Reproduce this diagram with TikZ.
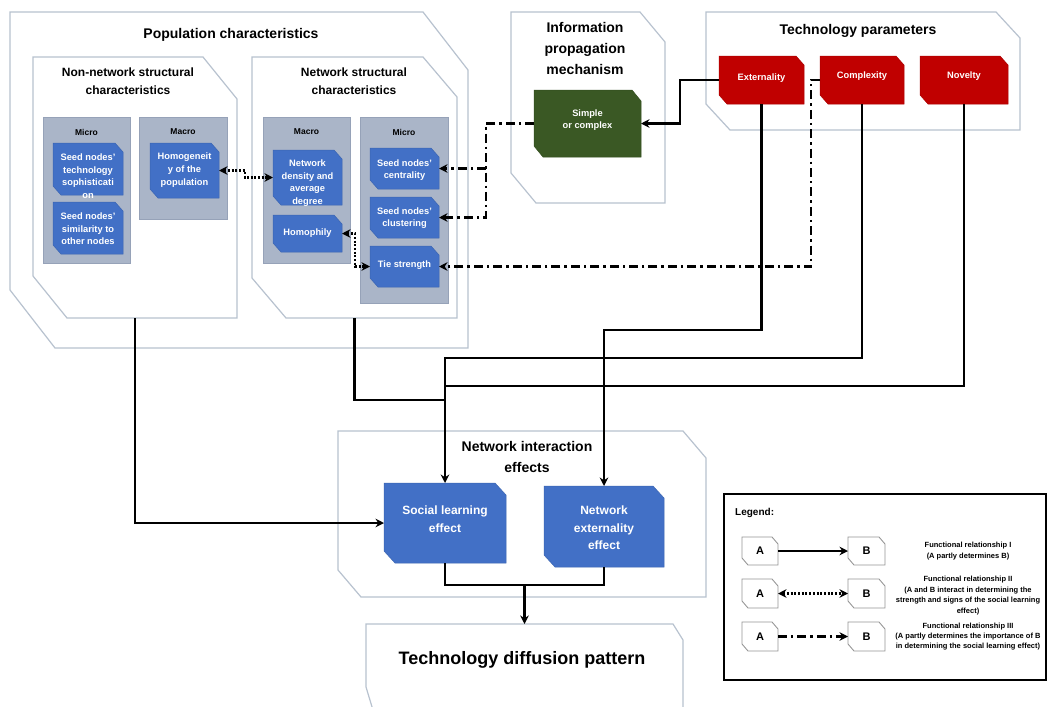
\documentclass[tikz,border=0pt]{standalone}
\usepackage{fontspec}
\setmainfont{Liberation Sans}
\usetikzlibrary{fit,arrows.meta,calc}
\definecolor{cborder}{RGB}{184,194,207}
\definecolor{panelfill}{RGB}{170,181,200}
\definecolor{panelborder}{RGB}{150,162,184}
\definecolor{nodeblue}{RGB}{66,112,198}
\definecolor{nodered}{RGB}{192,0,0}
\definecolor{nodegreen}{RGB}{58,88,36}
\definecolor{legborder}{RGB}{150,150,150}
% #1 style, #2 name, #3 x1, #4 y1, #5 x2, #6 y2, #7 cut x, #8 cut y
\newcommand\snipshape[8]{%
  \path[#1] (#3,#4) -- (#5-#7,#4) -- (#5,#4+#8) -- (#5,#6) -- (#3+#7,#6) -- (#3,#6-#8) -- cycle;
  \node[inner sep=0pt, outer sep=0pt, fit={(#3,#4) (#5,#6)}] (#2) {};
}
\newcommand\panelrect[5]{%
  \path[panel] (#2,#3) rectangle (#4,#5);
  \node[inner sep=0pt, outer sep=0pt, fit={(#2,#3) (#4,#5)}] (#1) {};
}
\begin{document}
\begin{tikzpicture}[x=1pt,y=-1pt,
  cont/.style={fill=white, draw=cborder, line width=1.2pt},
  panel/.style={fill=panelfill, draw=panelborder, line width=0.7pt},
  bluebox/.style={fill=nodeblue, draw=nodeblue!90!black, line width=0.5pt},
  redbox/.style={fill=nodered, draw=nodered!90!black, line width=0.5pt},
  greenbox/.style={fill=nodegreen, draw=nodegreen!90!black, line width=0.5pt},
  legbox/.style={fill=white, draw=legborder, line width=0.9pt},
  wtxt/.style={text=white, font=\bfseries\fontsize{9.3}{12.6}\selectfont, align=center, inner sep=0pt},
  ptxt/.style={font=\bfseries\fontsize{8.5}{10}\selectfont, inner sep=0pt},
  htxt/.style={font=\bfseries\fontsize{14}{21}\selectfont, align=center, inner sep=0pt},
  stxt/.style={font=\bfseries\fontsize{12}{18}\selectfont, align=center, inner sep=0pt},
  ltxt/.style={font=\bfseries\fontsize{7.5}{10.4}\selectfont, align=center, inner sep=0pt},
  conn/.style={line width=2.3pt, black},
  arr/.style={-{Stealth[length=8.5pt,width=8.5pt]}},
  darr/.style={{Stealth[length=8.5pt,width=8.5pt]}-{Stealth[length=8.5pt,width=8.5pt]}},
  dotl/.style={line width=2.6pt, dash pattern=on 2pt off 1.7pt},
  ddl/.style={line width=2.4pt, dash pattern=on 9pt off 4pt on 2.4pt off 4pt}
]
\useasboundingbox (0,0) rectangle (1050,707);
\clip (0,0) rectangle (1050,707);
\fill[white] (0,0) rectangle (1050,707);

% ---------- containers ----------
\snipshape{cont}{pop}{10}{12}{468}{348}{45}{58}
\snipshape{cont}{nonnet}{33}{57}{237}{318}{34}{42}
\snipshape{cont}{net}{252}{57}{457}{318}{34}{40}
\snipshape{cont}{info}{511}{12}{665}{203}{25}{30}
\snipshape{cont}{tech}{706}{12}{1020}{130}{24}{26}
\snipshape{cont}{inter}{338}{431}{706}{597}{23}{27}
\path[cont] (366,624) -- (673,624) -- (683,640) -- (683,740) -- (382,740) -- (366,687) -- cycle;
\node[inner sep=0pt, outer sep=0pt, fit={(366,624) (683,707)}] (diff) {};

% ---------- titles ----------
\node[htxt] (tpop) at (231,35) {Population characteristics};
\node[stxt] (tnonnet) at (128,81) {Non-network structural\\characteristics};
\node[stxt] (tnet) at (354,81) {Network structural\\characteristics};
\node[htxt] (tinfo) at (585,48) {Information\\propagation\\mechanism};
\node[htxt] (ttech) at (858,31) {Technology parameters};
\node[htxt] (tinter) at (527,457) {Network interaction\\effects};
\node[font=\bfseries\fontsize{18}{22}\selectfont, inner sep=0pt] (tdiff) at (522,660) {Technology diffusion pattern};

% ---------- panels ----------
\panelrect{nnmicro}{43}{117}{130}{263}
\panelrect{nnmacro}{139}{117}{227}{219}
\panelrect{nmacro}{263}{117}{350}{263}
\panelrect{nmicro}{360}{117}{448}{303}
\node[ptxt] (lnnmicro) at (86.5,132) {Micro};
\node[ptxt] (lnnmacro) at (183,132) {Macro};
\node[ptxt] (lnmacro) at (306.5,132) {Macro};
\node[ptxt] (lnmicro) at (404,132) {Micro};

% ---------- blue nodes ----------
\snipshape{bluebox}{soph}{53}{143}{123}{195}{8}{9}
\snipshape{bluebox}{simil}{53}{202}{123}{254}{8}{9}
\snipshape{bluebox}{homog}{150}{143}{219}{198}{8}{9}
\snipshape{bluebox}{dens}{273}{150}{342}{205}{8}{9}
\snipshape{bluebox}{homo}{273}{215}{342}{252}{8}{9}
\snipshape{bluebox}{cent}{370}{148}{439}{189}{8}{9}
\snipshape{bluebox}{clust}{370}{197}{439}{238}{8}{9}
\snipshape{bluebox}{tie}{370}{246}{439}{287}{8}{9}
\node[wtxt] (tsoph) at (88,176) {Seed nodes'\\technology\\sophisticati\\on};
\node[wtxt] (tsimil) at (88,229) {Seed nodes'\\similarity to\\other nodes};
\node[wtxt] (thomog) at (184.5,170) {Homogeneit\\y of the\\population};
\node[wtxt] (tdens) at (307.5,183) {Network\\density and\\average\\degree};
\node[wtxt] (thomo) at (307.5,233) {Homophily};
\node[wtxt] (tcent) at (404.5,170) {Seed nodes'\\centrality};
\node[wtxt] (tclust) at (404.5,218) {Seed nodes'\\clustering};
\node[wtxt] (ttie) at (404.5,265) {Tie strength};

% ---------- green / red ----------
\snipshape{greenbox}{green}{534}{90}{641}{157}{9}{11}
\node[wtxt] (tgreen) at (587.5,120) {Simple\\or complex};
\snipshape{redbox}{ext}{719}{56}{804}{104}{8}{9}
\snipshape{redbox}{comp}{820}{56}{904}{104}{8}{9}
\snipshape{redbox}{nov}{920}{56}{1008}{104}{8}{9}
\node[wtxt] (text) at (761.5,78) {Externality};
\node[wtxt] (tcomp) at (862,76) {Complexity};
\node[wtxt] (tnov) at (964,76) {Novelty};

% ---------- interaction effects ----------
\snipshape{bluebox}{social}{384}{483}{506}{563}{11}{12}
\snipshape{bluebox}{netext}{544}{486}{664}{567}{11}{12}
\node[wtxt, font=\bfseries\fontsize{12}{17.5}\selectfont] (tsocial) at (445,519) {Social learning\\effect};
\node[wtxt, font=\bfseries\fontsize{12}{17.5}\selectfont] (tnetext) at (604,528) {Network\\externality\\effect};

% ---------- level coordinates ----------
\coordinate (lvA) at (0,330);
\coordinate (lvB) at (0,358);
\coordinate (lvC) at (0,386);
\coordinate (lvD) at (0,400);
\coordinate (lvE) at (0,585);
\coordinate (xg) at (486,0);
\coordinate (xc) at (811,0);

% ---------- connectors ----------
\draw[conn,arr] (ext.west) -- ++(-39,0) |- (green.east);
\draw[ddl,arr] (green.west) -- (green.west -| xg) |- (clust.east);
\draw[ddl,arr] (cent.east -| xg) -- (cent.east);
\draw[ddl,arr] (comp.west) -- (comp.west -| xc) |- (tie.east);
\draw[dotl,darr] (homog.east) -- ++(26,0) |- (dens.west);
\draw[dotl,darr] (homo.east) -- ++(13,0) |- (tie.west);

\draw[conn,arr] (nonnet.south) |- (social.west);
\draw[conn] (net.south) -- (net.south |- lvD) -- (social.north |- lvD);
\draw[conn] (nov.south) -- (nov.south |- lvC) -- (social.north |- lvC);
\draw[conn,arr] (comp.south) -- (comp.south |- lvB) -| (social.north);
\draw[conn,arr] (ext.south) -- (ext.south |- lvA) -| (netext.north);
\draw[conn] (social.south) -- (social.south |- lvE) -| (netext.south);
\draw[conn,arr] (diff.north |- lvE) -- (diff.north);

% ---------- legend ----------
\draw[black, line width=2pt] (724,494) rectangle (1046,680);
\node[font=\bfseries\fontsize{10}{12}\selectfont, anchor=west, inner sep=0pt] (tleg) at (735,513) {Legend:};
\snipshape{legbox}{la1}{742}{537}{778}{565}{6}{7}
\snipshape{legbox}{lb1}{848}{537}{885}{565}{6}{7}
\snipshape{legbox}{la2}{742}{579}{778}{608}{6}{7}
\snipshape{legbox}{lb2}{848}{579}{885}{608}{6}{7}
\snipshape{legbox}{la3}{742}{622}{778}{651}{6}{7}
\snipshape{legbox}{lb3}{848}{622}{885}{651}{6}{7}
\foreach \n in {1,2,3}{
  \node[font=\bfseries\fontsize{11}{13}\selectfont, inner sep=0pt] (lta\n) at (la\n) {A};
  \node[font=\bfseries\fontsize{11}{13}\selectfont, inner sep=0pt] (ltb\n) at (lb\n) {B};
}
\draw[conn, line width=1.8pt, arr] (la1.east) -- (lb1.west);
\draw[dotl, line width=2.2pt, darr] (la2.east) -- (lb2.west);
\draw[ddl, line width=2.2pt, arr] (la3.east) -- (lb3.west);
\begin{scope}
\clip (725,495) rectangle (1045,679);
\node[ltxt] (lt1) at (968,551) {Functional relationship I\\(A partly determines B)};
\node[ltxt] (lt2) at (968,595.5) {Functional relationship II\\(A and B interact in determining the\\strength and signs of the social learning\\effect)};
\node[ltxt] (lt3) at (968,636.5) {Functional relationship III\\(A partly determines the importance of B\\in determining the social learning effect)};
\end{scope}
\end{tikzpicture}
\end{document}
